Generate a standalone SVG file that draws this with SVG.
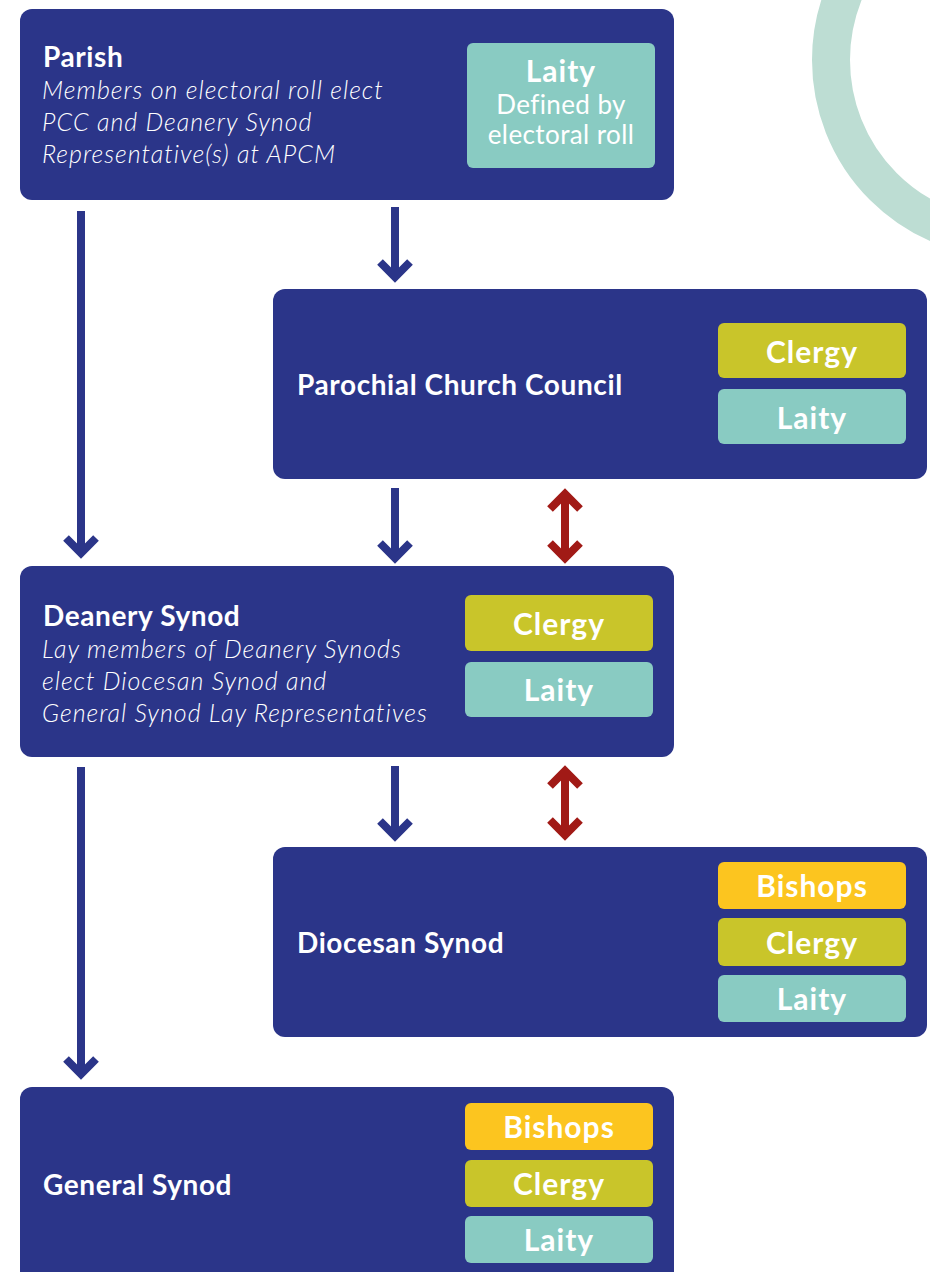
<svg xmlns="http://www.w3.org/2000/svg" width="930" height="1272" viewBox="0 0 930 1272">
<style>
.box{fill:#2B3589}
.cl{fill:#C9C52A}
.la{fill:#89CBC2}
.bi{fill:#FCC51F}
.t{font-family:Lato,"Open Sans","Liberation Sans",sans-serif;fill:#fff}
.h{font-weight:700;font-size:28px;letter-spacing:0.6px}
.it{font-style:italic;font-weight:300;font-size:25px;letter-spacing:1px}
.lab{font-weight:700;font-size:30px;text-anchor:middle;letter-spacing:1px}
.sub{font-weight:400;font-size:26px;text-anchor:middle;letter-spacing:0.4px}
.blue{stroke:#2B3589;stroke-width:8;fill:none;stroke-linejoin:miter}
.red{stroke:#A11A16;stroke-width:8;fill:none;stroke-linejoin:miter}
</style>
<circle cx="1010" cy="60" r="179" fill="none" stroke="#BDDDD3" stroke-width="38"/>
<g id="connectors">
<path class="blue" d="M81 211V552M66 538L81 553L96 538"/>
<path class="blue" d="M395 207V276M380 262L395 277L410 262"/>
<path class="blue" d="M395 488V557M380 543L395 558L410 543"/>
<path class="blue" d="M81 767V1073M66 1059L81 1074L96 1059"/>
<path class="blue" d="M395 766V835M380 821L395 836L410 821"/>
<path class="red" d="M565 496V555M550 509L565 494L580 509M550 543L565 558L580 543"/>
<path class="red" d="M565 773V832M550 786L565 771L580 786M550 820L565 835L580 820"/>
</g>
<g id="parish">
<rect class="box" x="20" y="9" width="654" height="191" rx="12"/>
<text class="t h" x="43" y="67">Parish</text>
<text class="t it" x="42" y="99">Members on electoral roll elect</text>
<text class="t it" x="42" y="131">PCC and Deanery Synod</text>
<text class="t it" x="42" y="163">Representative(s) at APCM</text>
<rect class="la" x="467" y="43" width="188" height="125" rx="6"/>
<text class="t lab" x="561" y="82">Laity</text>
<text class="t sub" x="561" y="114">Defined by</text>
<text class="t sub" x="561" y="144">electoral roll</text>
</g>
<g id="pcc">
<rect class="box" x="273" y="289" width="654" height="190" rx="12"/>
<text class="t h" x="297" y="395">Parochial Church Council</text>
<rect class="cl" x="718" y="323" width="188" height="55" rx="6"/>
<text class="t lab" x="812" y="363">Clergy</text>
<rect class="la" x="718" y="389" width="188" height="55" rx="6"/>
<text class="t lab" x="812" y="429">Laity</text>
</g>
<g id="deanery">
<rect class="box" x="20" y="566" width="654" height="191" rx="12"/>
<text class="t h" x="43" y="626">Deanery Synod</text>
<text class="t it" x="42" y="658">Lay members of Deanery Synods</text>
<text class="t it" x="42" y="690">elect Diocesan Synod and</text>
<text class="t it" x="42" y="722">General Synod Lay Representatives</text>
<rect class="cl" x="465" y="595" width="188" height="56" rx="6"/>
<text class="t lab" x="559" y="635">Clergy</text>
<rect class="la" x="465" y="662" width="188" height="55" rx="6"/>
<text class="t lab" x="559" y="701">Laity</text>
</g>
<g id="diocesan">
<rect class="box" x="273" y="847" width="654" height="190" rx="12"/>
<text class="t h" x="297" y="953">Diocesan Synod</text>
<rect class="bi" x="718" y="862" width="188" height="47" rx="6"/>
<text class="t lab" x="812" y="897">Bishops</text>
<rect class="cl" x="718" y="918" width="188" height="48" rx="6"/>
<text class="t lab" x="812" y="954">Clergy</text>
<rect class="la" x="718" y="975" width="188" height="47" rx="6"/>
<text class="t lab" x="812" y="1010">Laity</text>
</g>
<g id="general">
<rect class="box" x="20" y="1087" width="654" height="200" rx="12"/>
<text class="t h" x="43" y="1195">General Synod</text>
<rect class="bi" x="465" y="1103" width="188" height="47" rx="6"/>
<text class="t lab" x="559" y="1138">Bishops</text>
<rect class="cl" x="465" y="1160" width="188" height="47" rx="6"/>
<text class="t lab" x="559" y="1195">Clergy</text>
<rect class="la" x="465" y="1216" width="188" height="47" rx="6"/>
<text class="t lab" x="559" y="1251">Laity</text>
</g>
</svg>
